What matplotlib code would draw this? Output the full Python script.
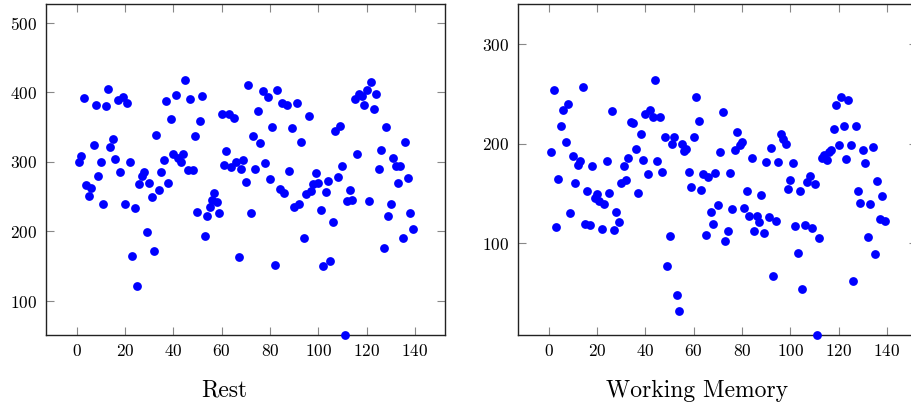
import matplotlib
matplotlib.use('Agg')
import matplotlib.pyplot as plt

plt.rcParams['font.family'] = 'cmr10'
plt.rcParams['mathtext.fontset'] = 'cm'
plt.rcParams['axes.formatter.use_mathtext'] = True

# sample index, shared by both panels
idx = list(range(1, 140))

rest = [300, 309, 391, 266, 251, 263, 324, 381, 280, 300,
        239, 380, 405, 321, 333, 304, 389, 285, 393, 239,
        385, 299, 165, 233, 122, 268, 280, 285, 199, 269,
        249, 172, 339, 259, 285, 303, 387, 269, 362, 311,
        396, 306, 299, 311, 417, 288, 390, 288, 337, 228,
        358, 394, 194, 222, 235, 245, 255, 242, 226, 368,
        295, 315, 368, 292, 363, 299, 163, 290, 302, 271,
        410, 226, 337, 289, 373, 327, 401, 298, 393, 275,
        350, 152, 403, 261, 385, 255, 381, 287, 348, 235,
        385, 239, 329, 191, 254, 366, 258, 268, 284, 269,
        231, 151, 257, 273, 158, 214, 344, 278, 351, 294,
        51, 243, 260, 245, 390, 311, 397, 394, 382, 403,
        243, 414, 376, 398, 290, 317, 176, 350, 222, 239,
        305, 294, 269, 294, 191, 328, 276, 227, 204]

working_memory = [192, 254, 116, 165, 218, 234, 202, 240, 130, 188,
                  160, 179, 183, 257, 119, 152, 118, 178, 145, 149,
                  142, 114, 139, 183, 150, 233, 113, 131, 121, 160,
                  178, 164, 186, 222, 221, 195, 150, 210, 184, 230,
                  170, 234, 227, 264, 183, 227, 172, 207, 77, 107,
                  200, 207, 48, 32, 200, 193, 195, 172, 156, 207,
                  247, 223, 153, 170, 108, 167, 131, 119, 171, 138,
                  192, 232, 102, 112, 171, 134, 194, 212, 199, 202,
                  135, 152, 127, 186, 112, 127, 121, 148, 110, 182,
                  126, 196, 67, 122, 182, 210, 205, 200, 154, 164,
                  181, 117, 90, 152, 54, 118, 161, 168, 115, 159,
                  7, 105, 186, 189, 184, 192, 194, 215, 239, 199,
                  247, 218, 185, 244, 199, 62, 218, 152, 140, 194,
                  181, 106, 139, 197, 89, 162, 124, 147, 122]

x_ticks = [0, 20, 40, 60, 80, 100, 120, 140]
rest_y_ticks = [100, 200, 300, 400, 500]
wm_y_ticks = [100, 200, 300]

fig = plt.figure(figsize=(9.12, 4.05), dpi=100)
ax1 = fig.add_axes([0.0501, 0.1728, 0.4378, 0.818])
ax2 = fig.add_axes([0.5677, 0.1728, 0.4378, 0.818])

panels = [
    (ax1, rest, rest_y_ticks, (51.2, 527), 'Rest', 224.5 / 912),
    (ax2, working_memory, wm_y_ticks, (7.4, 341), 'Working Memory', 697 / 912),
]

for ax, values, yt, ylim, caption, cx in panels:
    ax.scatter(idx, values, s=40, color='#0000ff', linewidths=0, zorder=3, clip_on=False)
    ax.set_xlim(-12.8, 152.4)
    ax.set_ylim(*ylim)
    ax.set_xticks(x_ticks)
    ax.set_yticks(yt)
    ax.tick_params(direction='in', length=5.8, width=0.8, color='#888888',
                   top=True, right=True, labelsize=12.5, pad=6)
    for sp in ax.spines.values():
        sp.set_linewidth(1.0)
        sp.set_color('#222222')
    fig.text(cx, 0.0198, caption, ha='center', va='baseline', fontsize=17)

fig.savefig('out.png', dpi=100)
